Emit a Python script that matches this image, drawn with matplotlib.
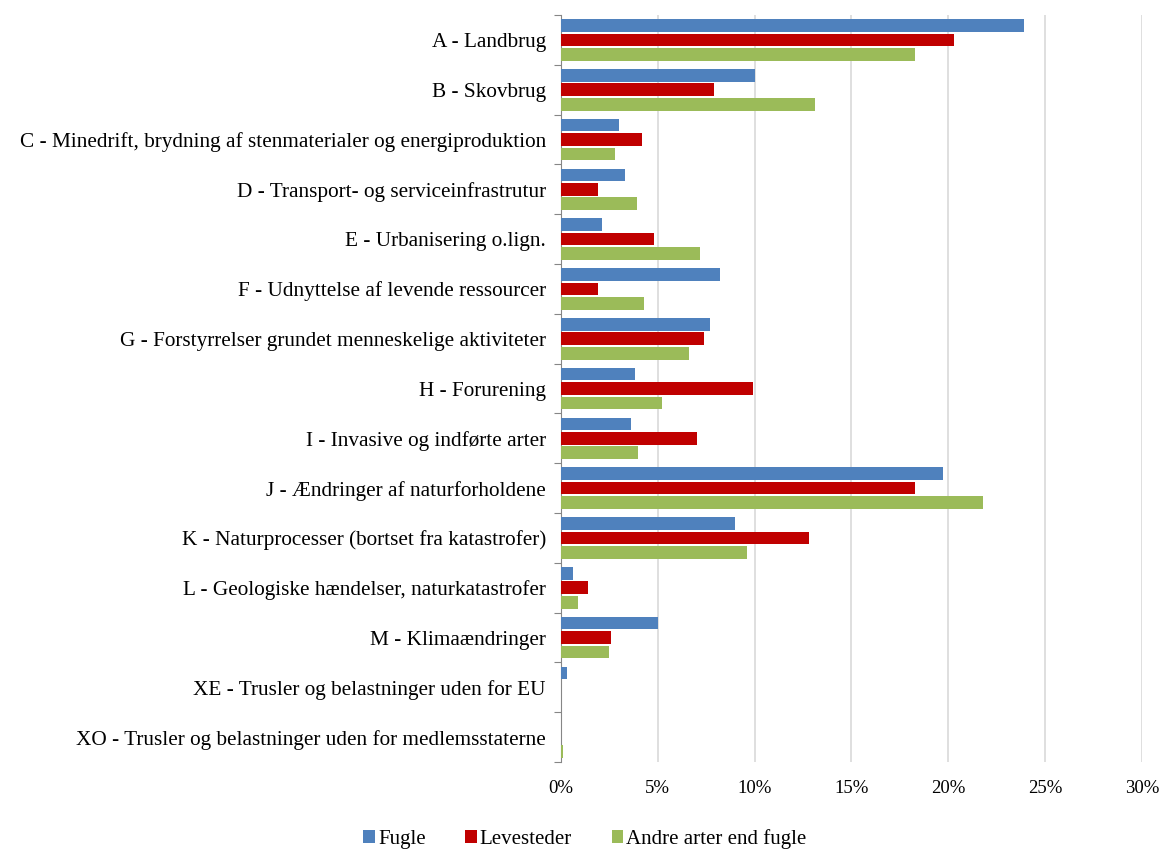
import numpy as np
import matplotlib
matplotlib.use("Agg")
import matplotlib.pyplot as plt
import matplotlib.ticker as mtick

plt.rcParams["font.family"] = ["Liberation Serif", "DejaVu Serif"]

categories = [
    "A - Landbrug",
    "B - Skovbrug",
    "C - Minedrift, brydning af stenmaterialer og energiproduktion",
    "D - Transport- og serviceinfrastrutur",
    "E - Urbanisering o.lign.",
    "F - Udnyttelse af levende ressourcer",
    "G - Forstyrrelser grundet menneskelige aktiviteter",
    "H - Forurening",
    "I - Invasive og indførte arter",
    "J - Ændringer af naturforholdene",
    "K - Naturprocesser (bortset fra katastrofer)",
    "L - Geologiske hændelser, naturkatastrofer",
    "M - Klimaændringer",
    "XE - Trusler og belastninger uden for EU",
    "XO - Trusler og belastninger uden for medlemsstaterne",
]

fugle = [23.9, 10.0, 3.0, 3.3, 2.1, 8.2, 7.7, 3.8, 3.6, 19.7, 9.0, 0.6, 5.0, 0.3, 0.0]
levesteder = [20.3, 7.9, 4.2, 1.9, 4.8, 1.9, 7.4, 9.9, 7.0, 18.3, 12.8, 1.4, 2.6, 0.0, 0.0]
andre = [18.3, 13.1, 2.8, 3.9, 7.2, 4.3, 6.6, 5.2, 4.0, 21.8, 9.6, 0.9, 2.5, 0.0, 0.1]

series = [
    ("Fugle", fugle, "#4F81BD"),
    ("Levesteder", levesteder, "#C00000"),
    ("Andre arter end fugle", andre, "#9BBB59"),
]

fig = plt.figure(figsize=(11.63, 8.63), dpi=100)
ax = fig.add_axes([0.4824, 0.117, 0.4995, 0.8656])

y = np.arange(len(categories))
step = 0.29
height = 0.255
for i, (name, vals, color) in enumerate(series):
    ax.barh(y + (i - 1) * step, vals, height=height, color=color, label=name, zorder=3)

ax.set_ylim(len(categories) - 0.5, -0.5)
ax.set_xlim(0, 30)
ax.xaxis.set_major_locator(mtick.MultipleLocator(5))
ax.xaxis.set_major_formatter(mtick.PercentFormatter(xmax=100, decimals=0))
ax.grid(axis="x", color="#D9D9D9", linewidth=1.2, zorder=0)

# category boundaries as tick marks, labels in the middle
ax.set_yticks(np.arange(-0.5, len(categories), 1.0))
ax.set_yticklabels([])
ax.set_yticks(y, minor=True)
ax.set_yticklabels(categories, minor=True, fontsize=15.3)
ax.tick_params(axis="y", which="major", length=5, color="#868686", direction="out")
ax.tick_params(axis="y", which="minor", length=0, pad=11)
ax.tick_params(axis="x", length=0, labelsize=13.5, pad=13)

for side in ["top", "right", "bottom"]:
    ax.spines[side].set_visible(False)
ax.spines["left"].set_color("#868686")

handles, labels = ax.get_legend_handles_labels()
fig.legend(
    handles, labels,
    loc="center", bbox_to_anchor=(0.503, 0.028),
    ncol=3, frameon=False, fontsize=15,
    handlelength=0.55, handleheight=0.55, handletextpad=0.15, columnspacing=1.9,
)

plt.savefig("out.png", dpi=100)
